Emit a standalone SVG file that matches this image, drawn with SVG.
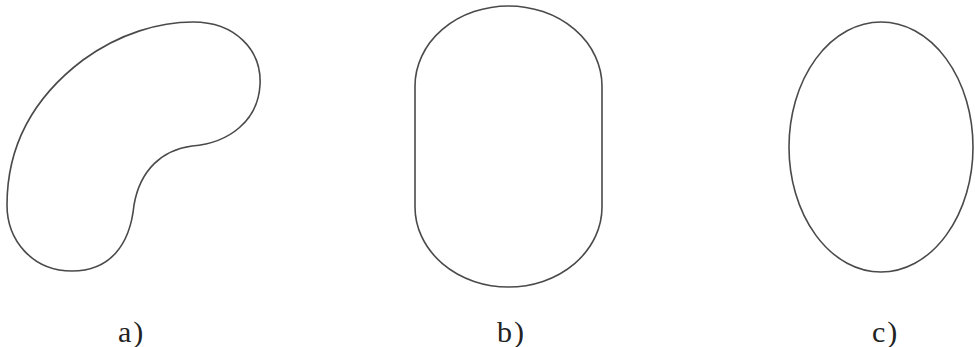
<svg xmlns="http://www.w3.org/2000/svg" width="975" height="347" viewBox="0 0 975 347">
<style>
.s{fill:none;stroke:#4a4a4a;stroke-width:1.6}
.l{font-family:"Liberation Serif",serif;font-size:30px;fill:#222;letter-spacing:2px}
</style>
<rect width="975" height="347" fill="#fff"/>
<g id="shape-a">
<path class="s" d="M193 22 C235 22 262 50 260 85 C258 120 230 143 192 146 C162 150 140 170 134 205 C130 245 110 271 72 271 C32 271 7 240 7 205 C7 150 30 100 83 60 C120 33 160 22 193 22 Z"/>
<text class="l" x="118" y="342">a)</text>
</g>
<g id="shape-b">
<path class="s" d="M415 86 A93.5 80 0 0 1 602 86 L602 207 A93.5 80 0 0 1 415 207 Z"/>
<text class="l" x="497" y="342">b)</text>
</g>
<g id="shape-c">
<ellipse class="s" cx="881" cy="147" rx="92" ry="125"/>
<text class="l" x="872" y="342">c)</text>
</g>
<g id="connectors"/>
</svg>
